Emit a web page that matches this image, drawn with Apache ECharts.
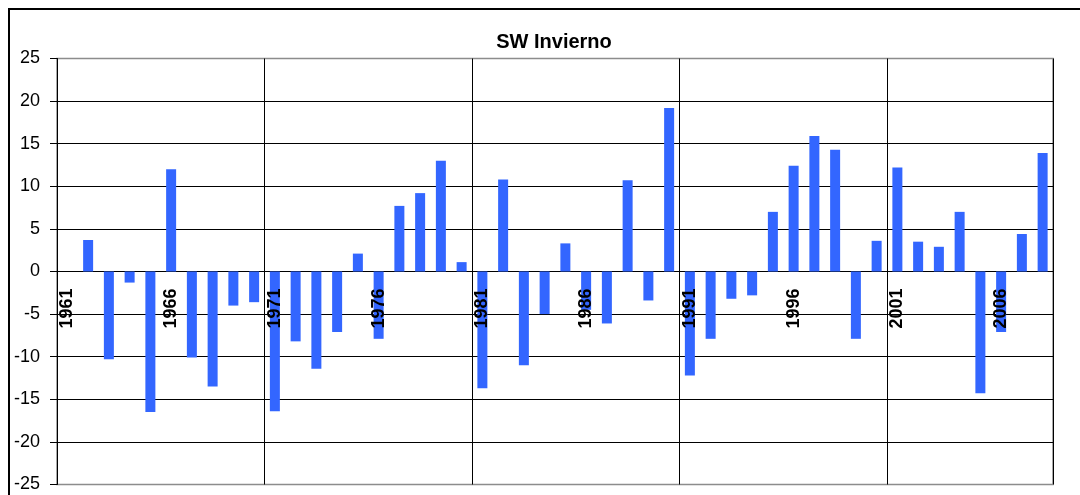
<!DOCTYPE html>
<html>
<head>
<meta charset="utf-8">
<script src="https://cdn.jsdelivr.net/npm/echarts@6/dist/echarts.min.js"></script>
<style>
  html, body { margin: 0; padding: 0; background: #fff; }
  #chart { width: 1080px; height: 495px; }
</style>
</head>
<body>
<div id="chart"></div>
<script>
// Winter SW anomalies per year, 1961-2008
const years = [];
for (let y = 1961; y <= 2008; y++) years.push(String(y));

const values = [
  0.0, 3.7, -10.3, -1.3, -16.5, 12.0, -10.1, -13.5, -4.0, -3.6,
  -16.4, -8.2, -11.4, -7.1, 2.1, -7.9, 7.7, 9.2, 13.0, 1.1,
  -13.7, 10.8, -11.0, -5.0, 3.3, -4.5, -6.1, 10.7, -3.4, 19.2,
  -12.2, -7.9, -3.2, -2.8, 7.0, 12.4, 15.9, 14.3, -7.9, 3.6,
  12.2, 3.5, 2.9, 7.0, -14.3, -7.1, 4.4, 13.9
];

const yTicks = { min: -25, max: 25, step: 5 };
const titleText = 'SW Invierno';

// plot box, in pixels
const plot = { left: 57, top: 58.5, right: 27, bottom: 10.5, height: 426 };
// year labels hang just under the zero line, inside the plot
const zeroFromBottom = plot.height * (0 - yTicks.min) / (yTicks.max - yTicks.min);

const chart = echarts.init(document.getElementById('chart'), null, { renderer: 'canvas' });

chart.setOption({
  animation: false,
  backgroundColor: '#ffffff',
  title: {
    text: titleText,
    left: 549,
    top: 27,
    textAlign: 'center',
    textStyle: {
      fontFamily: 'Liberation Sans, Arial, sans-serif',
      fontSize: 20,
      fontWeight: 'bold',
      color: '#000'
    }
  },
  graphic: [{
    type: 'rect',
    shape: { x: 9, y: 9, width: 1200, height: 700 },
    style: { fill: 'none', stroke: '#000', lineWidth: 2 },
    silent: true,
    z: 100
  }],
  grid: {
    left: plot.left,
    top: plot.top,
    right: plot.right,
    bottom: plot.bottom,
    show: true,
    borderColor: '#8c8c8c',
    borderWidth: 1.5,
    containLabel: false,
    outerBoundsMode: 'none'
  },
  xAxis: {
    type: 'category',
    data: years,
    boundaryGap: true,
    axisLine: { show: false },
    axisTick: { show: false },
    axisLabel: {
      interval: 4,
      rotate: 90,
      margin: 17 - zeroFromBottom,
      fontFamily: 'Liberation Sans, Arial, sans-serif',
      fontSize: 18,
      fontWeight: 'bold',
      color: '#000'
    },
    splitLine: {
      show: true,
      interval: function (index) { return index % 10 === 0 && index > 0; },
      lineStyle: { color: '#000', width: 1 }
    },
    z: 5
  },
  yAxis: {
    type: 'value',
    min: yTicks.min,
    max: yTicks.max,
    interval: yTicks.step,
    axisLine: { show: true, lineStyle: { color: '#000', width: 1 } },
    axisTick: { show: true, length: 7, lineStyle: { color: '#000' } },
    axisLabel: {
      margin: 17,
      fontFamily: 'Liberation Sans, Arial, sans-serif',
      fontSize: 18,
      color: '#000'
    },
    splitLine: {
      show: true,
      showMinLine: false,
      showMaxLine: false,
      lineStyle: { color: '#000', width: 1 }
    }
  },
  series: [{
    type: 'bar',
    data: values,
    barWidth: 10,
    itemStyle: { color: '#3366ff' },
    z: 3
  }]
});
</script>
</body>
</html>
